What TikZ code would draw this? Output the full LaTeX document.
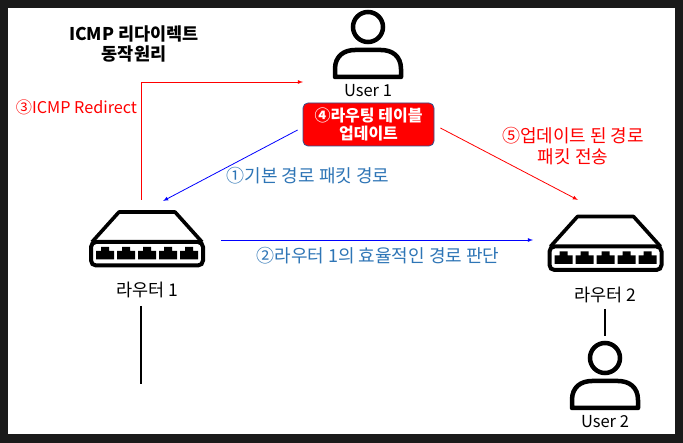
\documentclass[tikz,border=0pt]{standalone}
\usepackage{fontspec}
\setmainfont{Noto Sans CJK KR}
\usepackage{tikz}
\usetikzlibrary{shapes,arrows,positioning}
\definecolor{labelblue}{HTML}{2E75B6}
\definecolor{boxedge}{HTML}{2F528F}
\definecolor{frame}{HTML}{1A1A1A}
\tikzstyle{iconbox} = [inner sep=0pt, outer sep=0pt]
\tikzstyle{plain} = [inner sep=0pt, align=center, font=\fontsize{18}{20.5}\selectfont]
\tikzstyle{iconname} = [inner sep=0pt, align=center, font=\fontsize{17.5}{20}\selectfont]
\tikzstyle{block} = [draw=boxedge, fill=red, rectangle, rounded corners=5pt, line width=0.8pt, minimum width=131pt, minimum height=43pt, inner sep=0pt, align=center, text=white, font=\fontsize{16}{19}\selectfont\bfseries]
\tikzstyle{redline} = [->, >=latex, red, line width=0.8pt]
\tikzstyle{blueline} = [->, >=latex, blue, line width=0.8pt]
\tikzstyle{link} = [black, line width=2pt]
\tikzset{
    pics/usericon/.style={code={
        \draw[line width=4.5pt] (0,-23) circle (15);
        \draw[line width=4.5pt, line join=round] (-33,27) -- (33,27) -- (33,19)
            .. controls (33,6) and (24,0) .. (13,0) -- (-13,0)
            .. controls (-24,0) and (-33,6) .. (-33,19) -- cycle;
    }},
    pics/routericon/.style={code={
        \draw[line width=3.6pt, line join=round] (-55,3) -- (-28,-27) -- (28,-27) -- (55,3);
        \draw[line width=4pt, rounded corners=5pt] (-56,3) rectangle (56,26.5);
        \foreach \px in {-42,-21,0,21,42} {
            \fill (\px-9,20.5) -- (\px-9,12) -- (\px-4,12) -- (\px-4,8) -- (\px+4,8)
                -- (\px+4,12) -- (\px+9,12) -- (\px+9,20.5) -- cycle;
        }
    }}
}

\begin{document}
\begin{tikzpicture}[x=1pt, y=-1pt]
        \useasboundingbox (0,0) rectangle (683,443);
        \fill[frame] (0,0) rectangle (683,443);
        \fill[white] (8,8) rectangle (675,434);

        \node [iconbox] (user1) at (368,50) {};
        \pic at (user1) {usericon};
        \node [iconname, font=\fontsize{16.5}{20}\selectfont] [below = 34pt of user1] (user1text) {User 1};
        \node [block] at (368.5,124.5) (update) {④라우팅 테이블\\[-1pt]업데이트};

        \node [iconbox] (router1) at (147,239) {};
        \pic at (router1) {routericon};
        \node [iconname] [below = 42pt of router1] (router1text) {라우터 1};

        \node [iconbox] [right = 457.5pt of router1, yshift=-4.5pt] (router2) {};
        \pic at (router2) {routericon};
        \node [iconname] [below = 43pt of router2] (router2text) {라우터 2};

        \node [iconbox] (user2) at (605,381) {};
        \pic at (user2) {usericon};
        \node [iconname, font=\fontsize{16.5}{20}\selectfont] [below = 34pt of user2] (user2text) {User 2};

        \node [inner sep=0pt, align=center, font=\fontsize{17.5}{20}\selectfont\bfseries] at (134,44) (title) {ICMP 리다이렉트\\동작원리};
        \node [plain, red, font=\fontsize{16.2}{20}\selectfont] at (76.5,107) (step3) {③ICMP Redirect};
        \node [plain, labelblue] at (308,176) (step1) {①기본 경로 패킷 경로};
        \node [plain, labelblue] at (378,256) (step2) {②라우터 1의 효율적인 경로 판단};
        \node [plain, red] at (573,146) (step5) {⑤업데이트 된 경로\\패킷 전송};

        \coordinate (redirectstart) at ([xshift=-6pt, yshift=39pt]router1.center);
        \coordinate (redirectend) at ([xshift=-65pt, yshift=-32pt]user1.center);
        \coordinate (basicstart) at ([xshift=-5pt, yshift=-5.5pt]update.west);
        \coordinate (basicend) at ([xshift=16pt, yshift=38pt]router1.center);
        \coordinate (judgestart) at ([xshift=74pt, yshift=-1pt]router1.center);
        \coordinate (judgeend) at ([xshift=-72.5pt, yshift=3.5pt]router2.center);
        \coordinate (sendstart) at ([xshift=6pt, yshift=-3.5pt]update.east);
        \coordinate (sendend) at ([xshift=-27.5pt, yshift=43.5pt]router2.center);
        \coordinate (link1start) at ([xshift=-6pt, yshift=-67pt]router1.center);
        \coordinate (link1end) at ([xshift=-6pt, yshift=-145pt]router1.center);
        \coordinate (link2start) at ([yshift=72pt]user2.center);
        \coordinate (link2end) at ([yshift=45pt]user2.center);

        \draw[redline] (redirectstart) |- (redirectend);
        \draw[blueline] (basicstart) -- (basicend);
        \draw[blueline] (judgestart) -- (judgeend);
        \draw[redline] (sendstart) -- (sendend);
        \draw[link] (link1start) -- (link1end);
        \draw[link] (link2start) -- (link2end);
    \end{tikzpicture}
\end{document}
